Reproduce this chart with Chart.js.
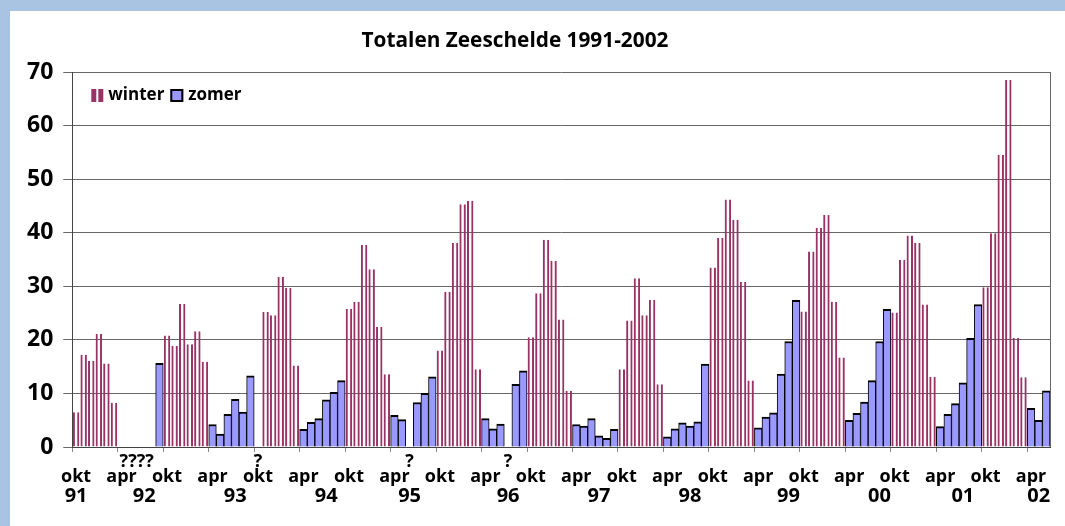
<!DOCTYPE html>
<html>
<head>
<meta charset="utf-8">
<title>Totalen Zeeschelde 1991-2002</title>
<script src="https://cdn.jsdelivr.net/npm/chart.js@4.4.1/dist/chart.umd.min.js"></script>
<style>
  html, body { margin: 0; padding: 0; }
  body {
    width: 1065px; height: 526px; overflow: hidden; position: relative;
    background: #a9c4e3;
  }
  #panel { position: absolute; left: 10px; top: 11px; width: 1055px; height: 515px; background: #fff; }
  #titel {
    position: absolute; left: 0; top: 27px; width: 1030px; text-align: center;
    font: bold 20.8px/24px "Open Sans", sans-serif; color: #000;
  }
  canvas { position: absolute; left: 0; top: 0; }
</style>
</head>
<body>
<div id="panel"><canvas id="chart" width="1055" height="515"></canvas></div>
<div id="titel">Totalen Zeeschelde 1991-2002</div>
<script>
/* Totalen Zeeschelde, maandwaarden okt 1991 - jun 2002 */

const maanden = ['okt', 'nov', 'dec', 'jan', 'feb', 'mrt', 'apr', 'mei', 'jun', 'jul', 'aug', 'sep'];
const winterMaanden = ['okt', 'nov', 'dec', 'jan', 'feb', 'mrt'];

// categorieen: een per maand, vanaf okt 1991
const categorieen = [];
for (let i = 0; i < 129; i++) {
    let jaar = 1991 + Math.floor((i + 9) / 12);
    categorieen.push(maanden[i % 12] + ' ' + jaar);
}

// totalen per maand (null = geen meting)
const totalen = [
    6.5, 17.2, 16.1, 21.1, 15.6, 8.2, null, null, null, null, null, 15.6,      // 91-92
    20.8, 18.9, 26.7, 19.2, 21.6, 15.9, 4.2, 2.4, 6.1, 8.9, 6.5, 13.3,         // 92-93
    null, 25.2, 24.6, 31.8, 29.7, 15.2, 3.3, 4.6, 5.3, 8.8, 10.2, 12.4,        // 93-94
    25.8, 27.1, 37.7, 33.2, 22.4, 13.6, 5.9, 5.1, null, 8.3, 10.0, 13.1,       // 94-95
    18.0, 29.0, 38.1, 45.3, 45.9, 14.5, 5.3, 3.4, 4.3, null, 11.7, 14.2,       // 95-96
    20.5, 28.7, 38.7, 34.7, 23.8, 10.5, 4.2, 3.9, 5.3, 2.1, 1.6, 3.3,          // 96-97
    14.5, 23.6, 31.5, 24.6, 27.5, 11.7, 1.9, 3.4, 4.5, 3.9, 4.7, 15.5,         // 97-98
    33.5, 39.0, 46.2, 42.4, 30.8, 12.4, 3.6, 5.6, 6.4, 13.6, 19.7, 27.4,       // 98-99
    25.3, 36.5, 40.9, 43.3, 27.1, 16.7, 5.0, 6.3, 8.4, 12.4, 19.7, 25.7,       // 99-00
    25.1, 34.9, 39.5, 38.1, 26.6, 13.1, 3.8, 6.1, 8.1, 12.0, 20.3, 26.6,       // 00-01
    29.8, 39.9, 54.5, 68.5, 20.4, 13.0, 7.2, 5.0, 10.5                         // 01-02
];

// vraagtekens boven de ontbrekende maanden
const notaIndex = [8, 24, 44, 57];
const notaTekst = ['????', '?', '?', '?'];

// jaartallen onder de as
const jaarIndex = [0, 9, 21, 33, 44, 57, 69, 81, 94, 106, 117, 127];
const jaarTekst = ['91', '92', '93', '94', '95', '96', '97', '98', '99', '00', '01', '02'];

const kleurWinter = '#993366';
const kleurZomer = '#9999ff';

let winter = totalen.map((v, i) => winterMaanden.includes(maanden[i % 12]) ? v : null);
let zomer = totalen.map((v, i) => winterMaanden.includes(maanden[i % 12]) ? null : v);

// legenda binnen het plotvlak, linksboven
const legendeInPlot = {
    id: 'legendeInPlot',
    afterDatasetsDraw(chart) {
        const ctx = chart.ctx;
        const area = chart.chartArea;
        let x = area.left + 19;
        let y = area.top + 17;
        ctx.save();
        ctx.font = 'bold 17px "Open Sans"';
        ctx.textBaseline = 'middle';
        // winter
        ctx.fillStyle = kleurWinter;
        ctx.fillRect(x, y, 5, 13);
        ctx.fillRect(x + 7, y, 5, 13);
        ctx.fillStyle = '#000';
        ctx.fillText(chart.data.datasets[0].label, x + 17, y + 6);
        // zomer
        x += 79;
        ctx.fillStyle = kleurZomer;
        ctx.fillRect(x, y, 13, 13);
        ctx.strokeStyle = '#000';
        ctx.lineWidth = 2;
        ctx.strokeRect(x + 1, y + 1, 11, 11);
        ctx.fillStyle = '#000';
        ctx.fillText(chart.data.datasets[1].label, x + 18, y + 6);
        ctx.restore();
    }
};

// rechterrand van het plotvlak
const plotRand = {
    id: 'plotRand',
    beforeDatasetsDraw(chart) {
        const ctx = chart.ctx;
        const area = chart.chartArea;
        ctx.save();
        ctx.strokeStyle = '#666';
        ctx.lineWidth = 1;
        ctx.beginPath();
        ctx.moveTo(area.right + 0.5, area.top);
        ctx.lineTo(area.right + 0.5, area.bottom);
        ctx.stroke();
        ctx.restore();
    }
};

let chart = new Chart(document.getElementById('chart'), {
    type: 'bar',
    data: {
        labels: categorieen,
        datasets: [{
            label: 'winter',
            data: winter,
            backgroundColor: 'rgba(255,255,255,0)',
            borderColor: kleurWinter,
            borderWidth: {left: 2, right: 2, top: 0, bottom: 0},
            borderSkipped: false,
            barPercentage: 0.85,
            categoryPercentage: 1,
            grouped: false
        }, {
            label: 'zomer',
            data: zomer,
            backgroundColor: kleurZomer,
            borderColor: '#000',
            borderWidth: {left: 1, right: 1, top: 2, bottom: 0},
            borderSkipped: false,
            barPercentage: 1,
            categoryPercentage: 1,
            grouped: false
        }]
    },
    options: {
        responsive: false,
        animation: false,
        devicePixelRatio: 1,
        layout: {
            padding: {left: 7, right: 15, top: 61, bottom: 20}
        },
        plugins: {
            legend: {display: false},
            tooltip: {enabled: false}
        },
        scales: {
            x: {
                offset: true,
                grid: {
                    offset: true,
                    drawOnChartArea: false,
                    tickLength: 5,
                    color: (c) => c.index % 6 === 0 ? '#888' : 'rgba(0,0,0,0)'
                },
                border: {color: '#444', width: 1},
                ticks: {
                    autoSkip: false,
                    maxRotation: 0,
                    padding: 2,
                    color: '#000',
                    font: {family: 'Open Sans', weight: 'bold', size: 18, lineHeight: '15px'},
                    callback: function (value, index) {
                        let maand = maanden[index % 12];
                        let n = notaIndex.indexOf(index);
                        let nota = n >= 0 ? notaTekst[n] : '';
                        let label = (maand === 'okt' || maand === 'apr') ? maand : '';
                        if (!nota && !label) return '';
                        return [nota, label];
                    }
                }
            },
            x2: {
                type: 'category',
                position: 'bottom',
                labels: categorieen,
                offset: true,
                grid: {display: false, drawTicks: false, tickLength: 0},
                border: {display: false},
                ticks: {
                    autoSkip: false,
                    maxRotation: 0,
                    padding: 0,
                    color: '#000',
                    font: {family: 'Open Sans', weight: 'bold', size: 20, lineHeight: '20px'},
                    callback: function (value, index) {
                        let n = jaarIndex.indexOf(index);
                        return n >= 0 ? jaarTekst[n] : '';
                    }
                }
            },
            y: {
                min: 0,
                max: 70,
                grid: {color: '#666', tickLength: 9},
                border: {color: '#444', width: 1},
                ticks: {
                    stepSize: 10,
                    padding: 10,
                    color: '#000',
                    font: {family: 'Open Sans', weight: 'bold', size: 23}
                }
            }
        }
    },
    plugins: [plotRand, legendeInPlot]
});
</script>
</body>
</html>
